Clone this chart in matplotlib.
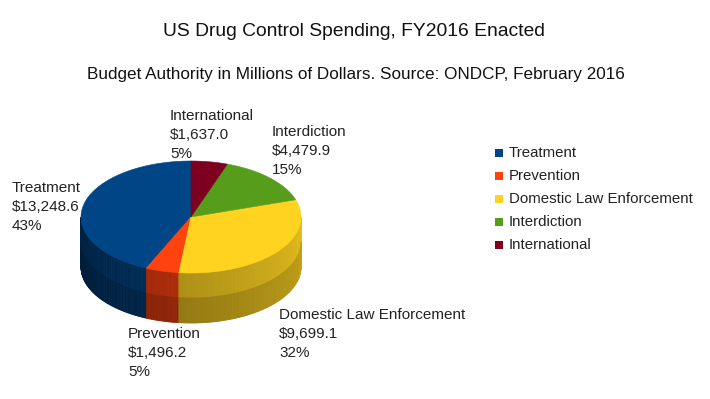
import numpy as np
import matplotlib.pyplot as plt
from matplotlib.patches import Polygon, Rectangle
from matplotlib.colors import to_rgb

categories = ["Treatment", "Prevention", "Domestic Law Enforcement", "Interdiction", "International"]
spending = [13248.6, 1496.2, 9699.1, 4479.9, 1637.0]
colors = ["#004586", "#ff420e", "#ffd320", "#579d1c", "#7e0021"]

title = "US Drug Control Spending, FY2016 Enacted"
subtitle = "Budget Authority in Millions of Dollars. Source: ONDCP, February 2016"

# where each slice label goes (left, top), pixels
label_pos = [(12, 181), (128, 327), (279, 308), (272, 125), (170, 109)]

plt.rcParams['font.family'] = ['Liberation Sans', 'DejaVu Sans']

fig = plt.figure(figsize=(7.1, 3.99), dpi=100)
ax = fig.add_axes([0, 0, 1, 1])
ax.set_xlim(0, 710)
ax.set_ylim(399, 0)
ax.axis('off')

# pie geometry (pixels)
cx, cy, a, b, depth = 191, 217, 110, 56, 50

vals = np.array(spending)
frac = vals / vals.sum()
edges = 90 + 360 * np.concatenate([[0], np.cumsum(frac)])


def pt(t):
    r = np.radians(t)
    return cx + a * np.cos(r), cy - b * np.sin(r)


def slice_at(t):
    u = ((t - 90) % 360) / 360
    return min(np.searchsorted(np.cumsum(frac), u), len(frac) - 1)


# side wall, front half only
brk = list(np.linspace(180, 360, 181))
for e in edges:
    for e2 in (e, e - 360):
        if 180 < e2 < 360:
            brk.append(e2)
brk = sorted(set(brk))
for t0, t1 in zip(brk[:-1], brk[1:]):
    i = slice_at((t0 + t1) / 2)
    u = ((t0 + t1) / 2 - 180) / 180
    f = 0.48 + 0.42 * u
    c = np.array(to_rgb(colors[i])) * f
    c2 = c * 0.85
    x0, y0 = pt(t0)
    x1, y1 = pt(t1)
    h = depth / 2
    ax.add_patch(Polygon([(x0, y0), (x1, y1), (x1, y1 + h), (x0, y0 + h)],
                         closed=True, facecolor=c, edgecolor=c, lw=0.6))
    ax.add_patch(Polygon([(x0, y0 + h), (x1, y1 + h), (x1, y1 + depth), (x0, y0 + depth)],
                         closed=True, facecolor=c2, edgecolor=c2, lw=0.6))

# top surface
for i in range(len(vals)):
    ts = np.linspace(edges[i], edges[i + 1], 100)
    xs, ys = pt(ts)
    verts = [(cx, cy)] + list(zip(xs, ys))
    ax.add_patch(Polygon(verts, closed=True, facecolor=colors[i], edgecolor=colors[i], lw=0.4))

# slice labels
for i, name in enumerate(categories):
    txt = f"{name}\n${vals[i]:,.1f}\n{frac[i] * 100:.0f}%"
    ax.text(label_pos[i][0], label_pos[i][1], txt, fontsize=11, ha='left', va='top',
            linespacing=1.45, color='#222222')

# legend
for i, name in enumerate(categories):
    y = 153 + 23 * i
    ax.add_patch(Rectangle((495, y - 4), 8, 8, facecolor=colors[i], edgecolor='none'))
    ax.text(509, y, name, fontsize=10.8, ha='left', va='center', color='#222222')

ax.text(354, 32, title, fontsize=13.9, ha='center', va='center', color='#111111')
ax.text(356, 74, subtitle, fontsize=12.35, ha='center', va='center', color='#111111')

fig.savefig("out.png", dpi=100)
